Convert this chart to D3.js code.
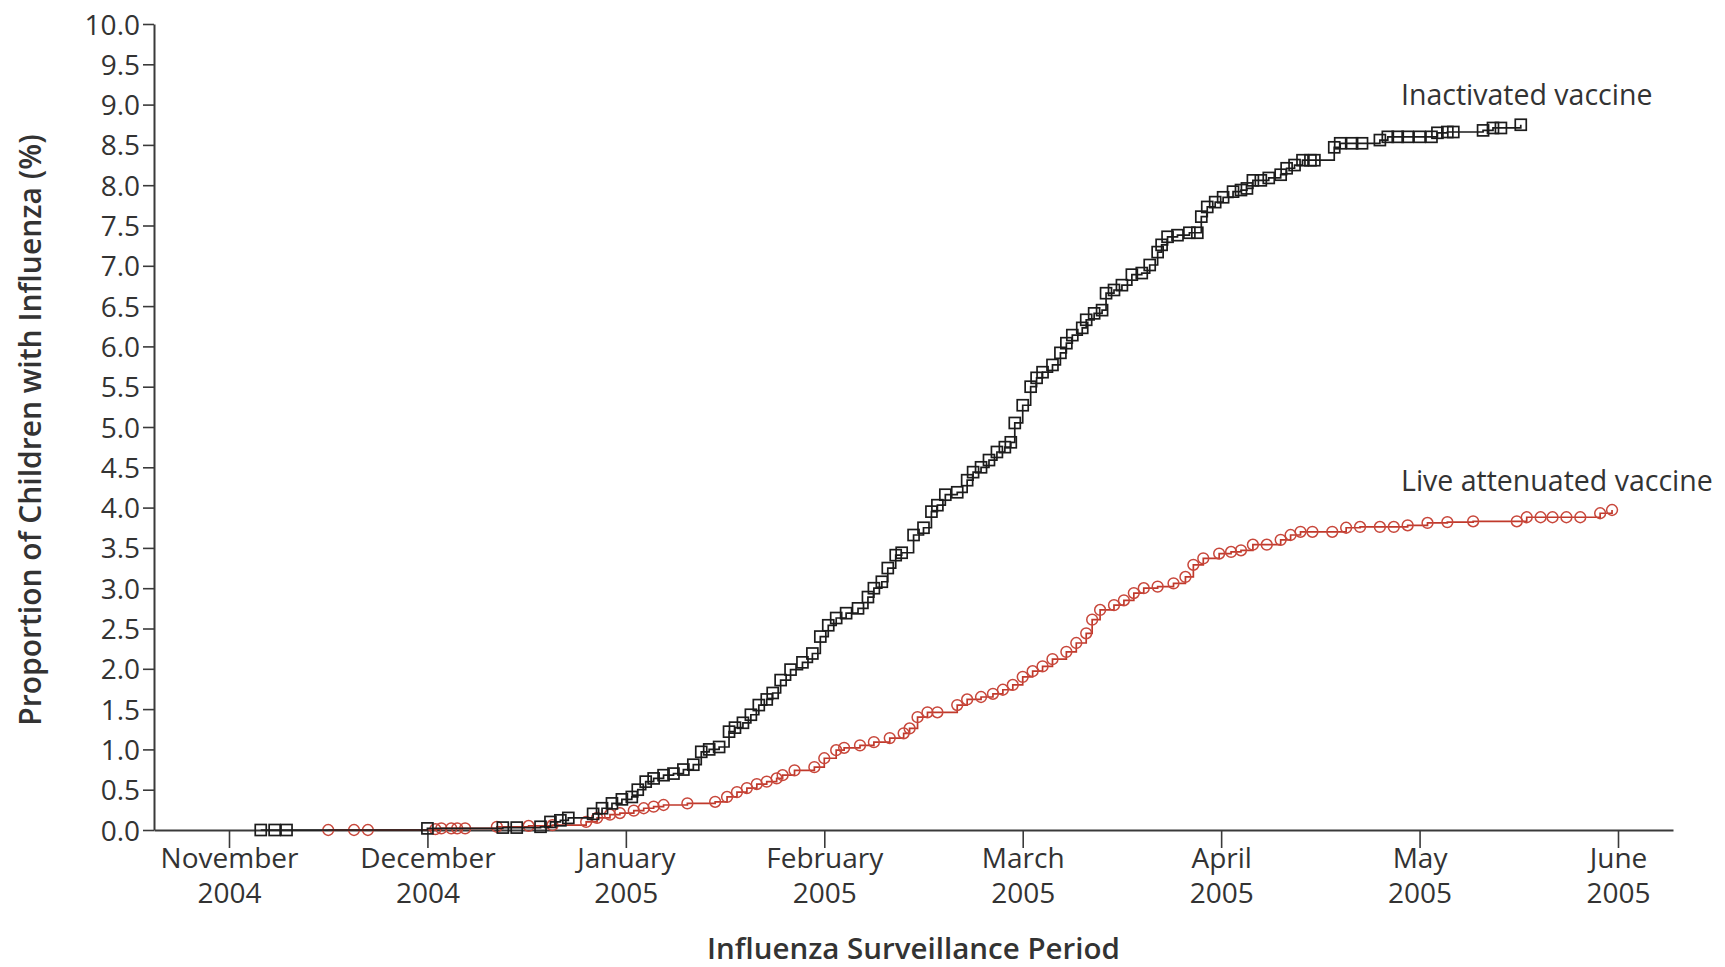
<!DOCTYPE html>
<html>
<head>
<meta charset="utf-8">
<script src="https://cdn.jsdelivr.net/npm/d3@7"></script>
<style>
  html, body { margin: 0; padding: 0; background: #fff; }
  svg { display: block; }
  text { font-family: "Open Sans", "Noto Sans", sans-serif; fill: #333; }
</style>
</head>
<body>
<svg id="chart" width="1725" height="967"></svg>
<script>
// ---- Data (x = months since 1 November 2004; y = % of children with influenza) ----
const inactivatedMonths = [0.16,0.23,0.29,1.00,1.38,1.45,1.57,1.62,1.67,1.71,1.835,1.88,1.93,1.98,2.03,2.06,2.10,2.14,2.19,2.24,2.29,2.34,2.38,2.42,2.47,2.52,2.55,2.59,2.63,2.67,2.71,2.74,2.78,2.83,2.89,2.94,2.98,3.02,3.06,3.11,3.17,3.22,3.25,3.29,3.32,3.36,3.39,3.45,3.50,3.54,3.57,3.61,3.67,3.72,3.75,3.79,3.83,3.87,3.91,3.94,3.96,4.00,4.04,4.07,4.10,4.15,4.19,4.22,4.25,4.30,4.32,4.36,4.40,4.42,4.46,4.50,4.55,4.60,4.64,4.68,4.70,4.73,4.78,4.84,4.88,4.90,4.93,4.97,5.01,5.06,5.10,5.13,5.16,5.20,5.24,5.30,5.33,5.37,5.41,5.45,5.47,5.57,5.60,5.66,5.71,5.80,5.84,5.89,5.94,6.00,6.06,6.09,6.14,6.17,6.32,6.37,6.41,6.51];
const inactivatedPct = [0,0,0,0.02,0.03,0.03,0.04,0.10,0.12,0.15,0.20,0.27,0.33,0.38,0.41,0.50,0.60,0.64,0.68,0.70,0.75,0.81,0.97,1.00,1.03,1.22,1.27,1.33,1.43,1.55,1.62,1.70,1.86,1.99,2.08,2.19,2.40,2.54,2.63,2.69,2.75,2.89,3.00,3.08,3.25,3.41,3.44,3.66,3.75,3.95,4.03,4.16,4.19,4.34,4.44,4.50,4.59,4.69,4.75,4.81,5.05,5.27,5.50,5.61,5.68,5.77,5.92,6.04,6.14,6.23,6.33,6.41,6.45,6.66,6.70,6.76,6.89,6.91,7.01,7.17,7.26,7.36,7.38,7.41,7.41,7.61,7.73,7.79,7.85,7.92,7.94,7.96,8.06,8.06,8.09,8.13,8.21,8.25,8.31,8.31,8.31,8.47,8.52,8.52,8.52,8.56,8.60,8.60,8.60,8.60,8.60,8.65,8.66,8.66,8.68,8.71,8.71,8.75];

const liveMonths = [0.50,0.63,0.70,1.04,1.07,1.12,1.15,1.19,1.35,1.51,1.63,1.80,1.855,1.92,1.97,2.04,2.09,2.14,2.19,2.31,2.45,2.51,2.56,2.61,2.66,2.71,2.76,2.79,2.85,2.95,3.00,3.06,3.10,3.18,3.25,3.33,3.40,3.43,3.47,3.52,3.57,3.67,3.72,3.79,3.85,3.90,3.95,4.00,4.05,4.10,4.15,4.22,4.27,4.32,4.35,4.39,4.46,4.51,4.56,4.61,4.68,4.76,4.82,4.86,4.91,4.99,5.05,5.10,5.16,5.23,5.30,5.35,5.40,5.46,5.56,5.63,5.70,5.80,5.87,5.94,6.04,6.14,6.27,6.49,6.54,6.61,6.67,6.74,6.81,6.91,6.97];
const livePct = [0,0,0,0.01,0.02,0.02,0.02,0.02,0.04,0.05,0.06,0.10,0.15,0.19,0.21,0.24,0.27,0.29,0.31,0.33,0.35,0.41,0.47,0.52,0.57,0.60,0.64,0.68,0.74,0.78,0.89,0.99,1.02,1.05,1.09,1.14,1.20,1.26,1.40,1.46,1.46,1.55,1.62,1.65,1.69,1.74,1.80,1.90,1.97,2.03,2.12,2.21,2.32,2.44,2.61,2.73,2.79,2.85,2.94,3.00,3.02,3.06,3.14,3.29,3.37,3.43,3.45,3.47,3.54,3.54,3.60,3.66,3.70,3.70,3.70,3.75,3.76,3.76,3.76,3.78,3.81,3.82,3.83,3.83,3.88,3.88,3.88,3.88,3.88,3.93,3.97];

const monthTicks = [0,1,2,3,4,5,6,7];
const monthNames = ["November","December","January","February","March","April","May","June"];
const monthYears = ["2004","2004","2005","2005","2005","2005","2005","2005"];
const yTickValues = [0,0.5,1,1.5,2,2.5,3,3.5,4,4.5,5,5.5,6,6.5,7,7.5,8,8.5,9,9.5,10];

const seriesNames = ["Inactivated vaccine","Live attenuated vaccine"];
const xTitle = "Influenza Surveillance Period";
const yTitle = "Proportion of Children with Influenza (%)";

(function draw() {
  const svg = d3.select("#chart");
  const pL = 154, pR = 1673, pT = 24, pB = 830;
  const monthPx = (1618 - 229) / 7;
  const x = d3.scaleLinear()
    .domain([(pL - 229) / monthPx, (pR - 229) / monthPx])
    .range([pL, pR]);
  const y = d3.scaleLinear().domain([0, 10]).range([pB, pT]);

  const axisColor = "#3a3a3a";

  // Y axis
  const yAxis = svg.append("g")
    .attr("transform", `translate(${pL},0)`)
    .call(d3.axisLeft(y).tickValues(yTickValues).tickFormat(d3.format(".1f"))
          .tickSize(11).tickSizeOuter(0).tickPadding(3));
  yAxis.select(".domain").attr("stroke", axisColor).attr("stroke-width", 2);
  yAxis.selectAll(".tick line").attr("stroke", axisColor).attr("stroke-width", 1.6);
  yAxis.selectAll(".tick text")
    .style("font-family", '"Open Sans", sans-serif')
    .style("font-size", "28px").attr("fill", "#333").attr("dy", "0.36em");

  // X axis
  const xAxis = svg.append("g")
    .attr("transform", `translate(0,${pB})`)
    .call(d3.axisBottom(x).tickValues(monthTicks).tickFormat(() => "")
          .tickSize(18).tickSizeOuter(0));
  xAxis.select(".domain").attr("stroke", axisColor).attr("stroke-width", 2.2);
  xAxis.selectAll(".tick line").attr("stroke", axisColor).attr("stroke-width", 1.6);
  xAxis.selectAll(".tick text").remove();
  xAxis.selectAll(".tick").each(function(d, i) {
    const t = d3.select(this).append("text")
      .attr("text-anchor", "middle")
      .style("font-family", '"Open Sans", sans-serif')
      .style("font-size", "28px").attr("fill", "#333");
    t.append("tspan").attr("x", 0).attr("y", 38).text(monthNames[i]);
    t.append("tspan").attr("x", 0).attr("y", 73).text(monthYears[i]);
  });

  // Titles
  svg.append("text")
    .attr("transform", `translate(30,${(pT + pB) / 2 + 3}) rotate(-90)`)
    .attr("text-anchor", "middle")
    .attr("dy", "0.35em")
    .style("font-size", "30px").style("font-weight", 600)
    .attr("fill", "#333")
    .text(yTitle);

  svg.append("text")
    .attr("x", (pL + pR) / 2).attr("y", 949)
    .attr("text-anchor", "middle").attr("dy", "0.35em")
    .style("font-size", "29.5px").style("font-weight", 600)
    .attr("fill", "#333")
    .text(xTitle);

  // Series
  const black = "#1c1c1c", red = "#c0392b";
  const line = d3.line().x(d => x(d[0])).y(d => y(d[1])).curve(d3.curveStepAfter);

  const inactData = inactivatedMonths.map((m, i) => [m, inactivatedPct[i]]);
  const liveData = liveMonths.map((m, i) => [m, livePct[i]]);

  svg.append("path").datum(liveData).attr("d", line)
    .attr("fill", "none").attr("stroke", red).attr("stroke-width", 1.7);
  svg.append("g").selectAll("circle").data(liveData).join("circle")
    .attr("cx", d => x(d[0])).attr("cy", d => y(d[1])).attr("r", 5.4)
    .attr("fill", "none").attr("stroke", "#c8473b").attr("stroke-width", 1.5);

  svg.append("path").datum(inactData).attr("d", line)
    .attr("fill", "none").attr("stroke", black).attr("stroke-width", 1.7);
  const sq = 11;
  svg.append("g").selectAll("rect").data(inactData).join("rect")
    .attr("x", d => x(d[0]) - sq / 2).attr("y", d => y(d[1]) - sq / 2)
    .attr("width", sq).attr("height", sq)
    .attr("fill", "none").attr("stroke", black).attr("stroke-width", 1.7);

  // Series labels
  svg.append("text")
    .attr("x", 1401).attr("y", 95).attr("dy", "0.35em")
    .style("font-size", "28.5px").attr("fill", "#333")
    .text(seriesNames[0]);
  svg.append("text")
    .attr("x", 1401).attr("y", 481).attr("dy", "0.35em")
    .style("font-size", "28.5px").attr("fill", "#333")
    .text(seriesNames[1]);
})();
</script>
</body>
</html>
